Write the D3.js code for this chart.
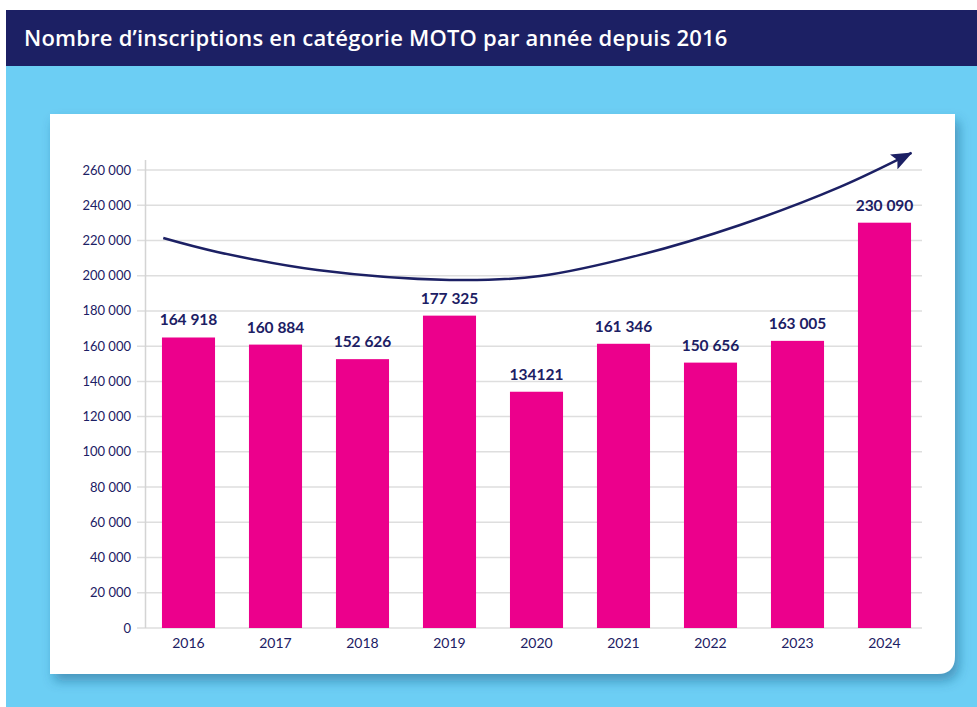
<!DOCTYPE html>
<html>
<head>
<meta charset="utf-8">
<script src="https://cdn.jsdelivr.net/npm/d3@7"></script>
<style>
  body { margin: 0; background: #fff; }
  svg { display: block; }
</style>
</head>
<body>
<svg width="977" height="707"></svg>
<script>
const YEARS = [2016, 2017, 2018, 2019, 2020, 2021, 2022, 2023, 2024];
const INSCRIPTIONS = [164918, 160884, 152626, 177325, 134121, 161346, 150656, 163005, 230090];
const VALUE_LABELS = ['164 918', '160 884', '152 626', '177 325', '134121', '161 346', '150 656', '163 005', '230 090'];
const Y_TICKS = [0, 20000, 40000, 60000, 80000, 100000, 120000, 140000, 160000, 180000, 200000, 220000, 240000, 260000];

// decorative trend arrow (year position, value)
const TREND_YEARS = [2015.71, 2016.33, 2017.48, 2019.0, 2020.04, 2021.19, 2022.34, 2023.49, 2024.31];
const TREND_VALUES = [221400, 213500, 203200, 197600, 199800, 211800, 228800, 250400, 269700];

const TITLE = 'Nombre d’inscriptions en catégorie MOTO par année depuis 2016';

const navy = '#1c2064';
const pink = '#ec008c';
const sky = '#6ccef4';

const svg = d3.select('svg');

const defs = svg.append('defs');
const shadow = defs.append('filter').attr('id', 'shadow')
    .attr('x', '-5%').attr('y', '-5%').attr('width', '115%').attr('height', '120%');
shadow.append('feDropShadow')
    .attr('dx', 4).attr('dy', 7).attr('stdDeviation', 6)
    .attr('flood-color', '#1a4f78').attr('flood-opacity', 0.45);

defs.append('marker')
    .attr('id', 'head')
    .attr('viewBox', '0 0 20 16')
    .attr('refX', 19).attr('refY', 8)
    .attr('markerWidth', 21).attr('markerHeight', 17)
    .attr('markerUnits', 'userSpaceOnUse')
    .attr('orient', 'auto')
    .append('path')
    .attr('d', 'M0,0 L20,8 L0,16 L4,8 Z')
    .attr('fill', navy);

// backgrounds
svg.append('rect').attr('x', 6).attr('y', 66).attr('width', 971).attr('height', 641).attr('fill', sky);
svg.append('rect').attr('x', 6).attr('y', 10).attr('width', 971).attr('height', 56).attr('fill', navy);
svg.append('text')
    .attr('x', 24).attr('y', 46)
    .attr('fill', '#fff')
    .style('font-family', '"Open Sans", sans-serif')
    .style('font-weight', 600)
    .style('font-size', '22px')
    .style('letter-spacing', '0.2px')
    .text(TITLE);

// card with rounded bottom-right corner
const cx0 = 50, cy0 = 114, cx1 = 955, cy1 = 674, r = 18;
svg.append('path')
    .attr('d', `M${cx0},${cy0} H${cx1} V${cy1 - r} Q${cx1},${cy1} ${cx1 - r},${cy1} H${cx0} Z`)
    .attr('fill', '#fff')
    .attr('filter', 'url(#shadow)');

const x = d3.scaleBand()
    .domain(YEARS)
    .range([145, 928])
    .paddingInner(0.39)
    .paddingOuter(0.195);

const y = d3.scaleLinear()
    .domain([0, 260000])
    .range([628, 170]);

const xPos = d3.scaleLinear()
    .domain([YEARS[0], YEARS[YEARS.length - 1]])
    .range([x(YEARS[0]) + x.bandwidth() / 2, x(YEARS[YEARS.length - 1]) + x.bandwidth() / 2]);

const fr = d3.formatLocale({decimal: ',', thousands: ' ', grouping: [3], currency: ['', ' €']});
const fmt = fr.format(',d');

// grid
svg.append('g')
    .selectAll('line')
    .data(Y_TICKS)
    .enter()
    .append('line')
    .attr('x1', 137).attr('x2', 922)
    .attr('y1', d => y(d)).attr('y2', d => y(d))
    .attr('stroke', '#dedede')
    .attr('stroke-width', 1.5);

svg.append('line')
    .attr('x1', 145.5).attr('x2', 145.5)
    .attr('y1', 160).attr('y2', 628)
    .attr('stroke', '#d4d4d4')
    .attr('stroke-width', 1.5);

svg.append('g')
    .selectAll('text')
    .data(Y_TICKS)
    .enter()
    .append('text')
    .attr('x', 131)
    .attr('y', d => y(d))
    .attr('dy', '0.35em')
    .attr('text-anchor', 'end')
    .attr('fill', navy)
    .style('font-family', 'Lato, "Open Sans", sans-serif')
    .style('font-size', '13px')
    .text(d => fmt(d));

// bars
svg.append('g')
    .selectAll('.bar')
    .data(YEARS)
    .enter()
    .append('rect')
    .classed('bar', true)
    .attr('x', d => x(d))
    .attr('width', x.bandwidth())
    .attr('y', (d, i) => y(INSCRIPTIONS[i]))
    .attr('height', (d, i) => y(0) - y(INSCRIPTIONS[i]))
    .attr('fill', pink);

svg.append('g')
    .selectAll('text')
    .data(YEARS)
    .enter()
    .append('text')
    .attr('x', d => x(d) + x.bandwidth() / 2)
    .attr('y', (d, i) => y(INSCRIPTIONS[i]) - 12)
    .attr('text-anchor', 'middle')
    .attr('fill', navy)
    .style('font-family', 'Lato, "Open Sans", sans-serif')
    .style('font-weight', 700)
    .style('font-size', '15.5px')
    .text((d, i) => VALUE_LABELS[i]);

svg.append('g')
    .selectAll('text')
    .data(YEARS)
    .enter()
    .append('text')
    .attr('x', d => x(d) + x.bandwidth() / 2)
    .attr('y', 648)
    .attr('text-anchor', 'middle')
    .attr('fill', navy)
    .style('font-family', 'Lato, "Open Sans", sans-serif')
    .style('font-size', '14px')
    .text(d => d);

// trend arrow
const trend = d3.line()
    .x(d => xPos(d[0]))
    .y(d => y(d[1]))
    .curve(d3.curveCatmullRom);

svg.append('path')
    .datum(TREND_YEARS.map((yr, i) => [yr, TREND_VALUES[i]]))
    .attr('d', trend)
    .attr('fill', 'none')
    .attr('stroke', navy)
    .attr('stroke-width', 2.5)
    .attr('marker-end', 'url(#head)');
</script>
</body>
</html>
